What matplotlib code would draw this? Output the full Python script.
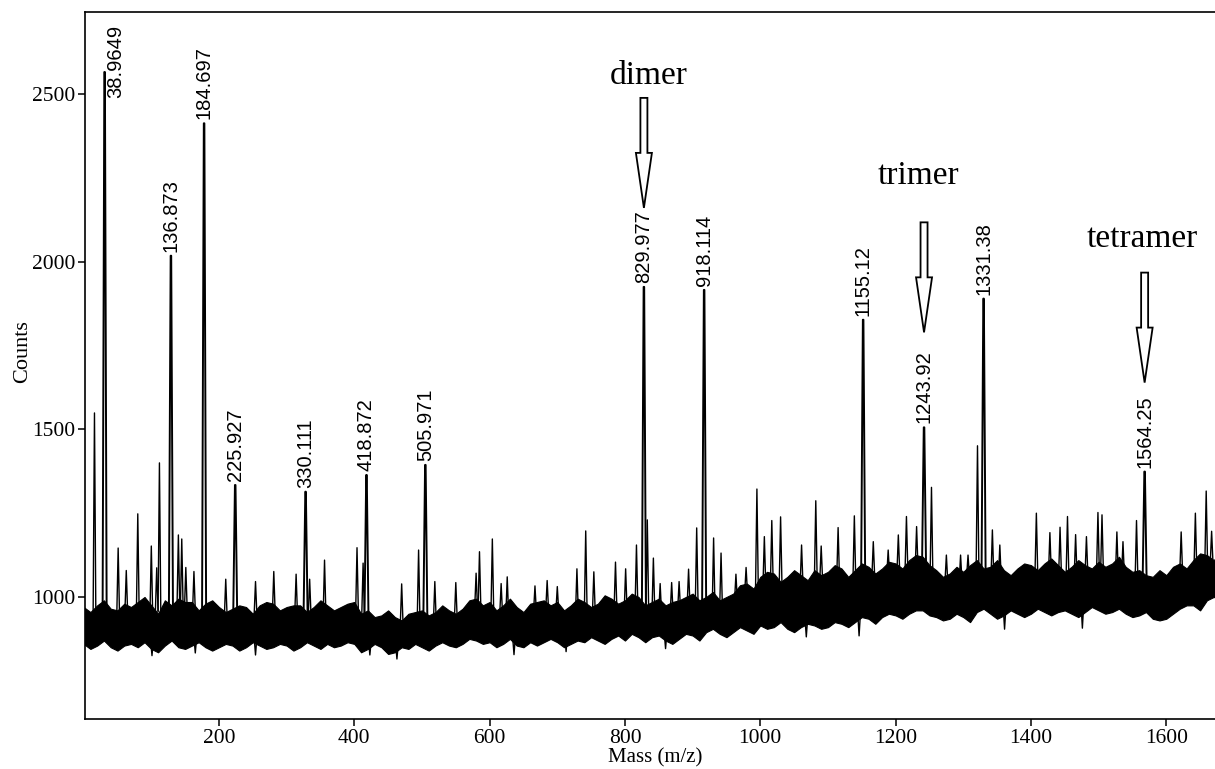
import numpy as np
import matplotlib
matplotlib.use("Agg")
import matplotlib.pyplot as plt
from matplotlib.patches import Polygon

# ---------------- data ----------------
# noise band (lower / upper edge of the dense baseline), sampled every 20 m/z
band_x = list(range(0, 1700, 20))
band_hi = [970, 975, 965, 980, 985, 975, 990, 995, 985, 980,
           970, 965, 970, 975, 980, 970, 975, 970, 975, 970,
           985, 960, 945, 940, 950, 960, 955, 960, 965, 995,
           985, 975, 970, 980, 990, 985, 975, 985, 980, 995,
           990, 1000, 985, 975, 990, 1010, 1000, 990, 1010, 1040,
           1060, 1070, 1060, 1065, 1080, 1075, 1085, 1080, 1090, 1085,
           1100, 1110, 1120, 1080, 1070, 1075, 1110, 1090, 1080, 1085,
           1095, 1100, 1095, 1090, 1095, 1105, 1100, 1090, 1080, 1060,
           1065, 1100, 1110, 1125, 1130]
band_lo = [860, 855, 850, 855, 850, 845, 855, 850, 855, 850,
           850, 855, 850, 855, 850, 855, 850, 855, 860, 855,
           860, 845, 850, 835, 845, 850, 855, 855, 860, 870,
           865, 860, 855, 865, 865, 865, 860, 865, 870, 875,
           870, 880, 880, 870, 875, 885, 895, 890, 895, 900,
           915, 910, 905, 910, 915, 910, 920, 925, 935, 940,
           945, 950, 960, 940, 935, 940, 955, 950, 945, 950,
           950, 955, 955, 950, 955, 960, 955, 950, 945, 935,
           935, 965, 975, 990, 995]
# edge values half-way between the samples above
band_hi_mid = [955, 990, 960, 970, 1000, 950, 975, 985, 960, 990,
               955, 975, 950, 985, 960, 975, 955, 990, 960, 980,
               950, 940, 960, 930, 955, 945, 975, 950, 990, 975,
               960, 995, 955, 985, 975, 960, 995, 970, 1005, 980,
               1010, 975, 995, 985, 1000, 990, 1015, 1000, 1035, 1025,
               1075, 1045, 1080, 1050, 1065, 1095, 1060, 1100, 1070, 1105,
               1085, 1125, 1095, 1060, 1090, 1095, 1085, 1110, 1065, 1100,
               1080, 1115, 1075, 1110, 1085, 1090, 1120, 1075, 1065, 1080,
               1090, 1085, 1130, 1110, 1140]
band_lo_mid = [845, 870, 840, 860, 865, 835, 870, 845, 865, 840,
               860, 840, 865, 845, 860, 840, 865, 845, 850, 865,
               835, 860, 830, 850, 860, 840, 865, 850, 875, 860,
               850, 875, 850, 855, 875, 850, 870, 880, 860, 885,
               890, 865, 885, 860, 890, 870, 905, 880, 910, 890,
               905, 925, 895, 920, 905, 925, 910, 940, 920, 950,
               935, 960, 945, 930, 950, 925, 965, 935, 960, 940,
               965, 945, 960, 940, 970, 950, 965, 940, 955, 930,
               950, 975, 960, 1000, 985]

# labelled peaks
peak_mass = [31, 129, 178, 224, 328, 418, 505, 828, 917, 1152, 1242, 1330, 1568]
peak_top = [2566, 2018, 2413, 1334, 1314, 1364, 1394, 1925, 1916, 1827, 1506, 1890, 1374]
peak_label = ["38.9649", "136.873", "184.697", "225.927", "330.111", "418.872",
              "505.971", "829.977", "918.114", "1155.12", "1243.92", "1331.38", "1564.25"]

# unlabelled spikes above the baseline
spike_mass = [16, 51, 63, 80, 100, 108, 112, 140, 145, 151, 163, 210, 254, 281, 314,
              334, 356, 404, 413, 470, 495, 519, 550, 580, 585, 604, 617, 626, 667,
              685, 700, 729, 742, 754, 786, 801, 817, 833, 842, 852, 869, 880, 894,
              906, 931, 942, 964, 979, 995, 1006, 1017, 1030, 1061, 1082, 1090, 1115,
              1139, 1167, 1189, 1204, 1216, 1231, 1253, 1275, 1296, 1307, 1321, 1343,
              1354, 1408, 1428, 1443, 1454, 1466, 1482, 1499, 1505, 1527, 1536, 1556,
              1622, 1643, 1659, 1667]
spike_top = [1549, 1146, 1079, 1248, 1152, 1087, 1400, 1185, 1173, 1088, 1076, 1053,
             1046, 1076, 1068, 1053, 1110, 1147, 1101, 1039, 1140, 1046, 1043, 1071,
             1135, 1173, 1040, 1060, 1033, 1049, 1031, 1084, 1197, 1075, 1104, 1084,
             1155, 1230, 1116, 1040, 1043, 1046, 1083, 1206, 1176, 1131, 1068, 1088,
             1322, 1180, 1228, 1239, 1155, 1287, 1152, 1207, 1242, 1165, 1140, 1185,
             1240, 1210, 1327, 1125, 1125, 1125, 1451, 1200, 1155, 1250, 1192, 1208,
             1240, 1186, 1180, 1252, 1245, 1194, 1165, 1228, 1194, 1250, 1316, 1196]

# dips below the baseline
dip_mass = [101, 165, 254, 423, 463, 636, 713, 860, 1068, 1146, 1361, 1476]
dip_bottom = [825, 833, 827, 827, 815, 828, 837, 846, 881, 884, 904, 907]

# oligomer annotations: name and index of the labelled peak they point to
olig_name = ["dimer", "trimer", "tetramer"]
olig_peak = [7, 10, 12]

x_ticks = [200, 400, 600, 800, 1000, 1200, 1400, 1600]
y_ticks = [1000, 1500, 2000, 2500]

# ---------------- figure ----------------
W, H, DPI = 1215, 769, 100
L, R, T, B = 85, 1215, 12, 719
fig = plt.figure(figsize=(W / DPI, H / DPI), dpi=DPI)
ax = fig.add_axes([L / W, 1 - B / H, (R - L) / W, (B - T) / H])
XMIN, XMAX = 2, 1672
YMIN, YMAX = 636, 2745
ax.set_xlim(XMIN, XMAX)
ax.set_ylim(YMIN, YMAX)
ux = (XMAX - XMIN) / (R - L)   # data units per pixel
uy = (YMAX - YMIN) / (B - T)

serif = "Liberation Serif"
sans = "Liberation Sans"

# baseline band with jagged edges
bx, bhi, blo = [], [], []
for x, h, hm, l, lm in zip(band_x, band_hi, band_hi_mid, band_lo, band_lo_mid):
    bx += [x, x + 10]
    bhi += [h, hm]
    blo += [l, lm]
ax.fill_between(bx, blo, bhi, color="black", lw=0.8)

# spikes
for m, t in zip(spike_mass, spike_top):
    base = np.interp(m, band_x, band_hi) - 25
    ax.plot([m - 2, m, m + 2], [base, t, base], color="black", lw=1.0)
for m, b in zip(dip_mass, dip_bottom):
    base = np.interp(m, band_x, band_lo) + 25
    ax.plot([m - 2, m, m + 2], [base, b, base], color="black", lw=1.0)

# labelled peaks (label offsets in pixels)
label_dx = {0: 11}
label_gap = {0: -26}
for i, (m, t, lab) in enumerate(zip(peak_mass, peak_top, peak_label)):
    base = np.interp(m, band_x, band_hi) - 30
    ax.plot([m - 3, m - 0.4, m + 0.4, m + 3], [base, t, t, base], color="black", lw=1.4)
    gap = label_gap.get(i, 4) * uy
    ax.text(m + label_dx.get(i, 0) * ux, t + gap, lab, rotation=90,
            ha="center", va="bottom", fontsize=14.5, family=sans)

# oligomer arrows and names (offsets in pixels)
tip_px = [79, 95, 89]
name_gap_px = [14, 38, 26]
name_dx_px = [5, -6, -2]
arrow_len, head_len, head_hw, shaft_hw = 110, 55, 8, 3.5
for name, pi, tp, ng, nd in zip(olig_name, olig_peak, tip_px, name_gap_px, name_dx_px):
    x = peak_mass[pi]
    ytip = peak_top[pi] + tp * uy
    yhead = ytip + head_len * uy
    ytail = ytip + arrow_len * uy
    pts = [(x, ytip), (x - head_hw * ux, yhead), (x - shaft_hw * ux, yhead),
           (x - shaft_hw * ux, ytail), (x + shaft_hw * ux, ytail),
           (x + shaft_hw * ux, yhead), (x + head_hw * ux, yhead)]
    ax.add_patch(Polygon(pts, closed=True, fc="white", ec="black", lw=1.3, zorder=5))
    ax.text(x + nd * ux, ytail + ng * uy, name, ha="center", va="baseline",
            fontsize=24, family=serif)

# axes styling
ax.spines["right"].set_visible(False)
for s in ["left", "bottom", "top"]:
    ax.spines[s].set_linewidth(1.2)
ax.set_xticks(x_ticks)
ax.set_yticks(y_ticks)
ax.tick_params(axis="both", direction="out", length=5, width=1.1, labelsize=15.5, pad=2)
ax.tick_params(top=False, right=False)
for lab in ax.get_xticklabels() + ax.get_yticklabels():
    lab.set_family(serif)
ax.set_xlabel("Mass (m/z)", fontsize=15, family=serif, va="top")
ax.xaxis.set_label_coords(0.505, -0.041)
ax.set_ylabel("Counts", fontsize=16, family=serif)
ax.yaxis.set_label_coords(-0.047, 0.52)

fig.savefig("out.png", dpi=DPI)
